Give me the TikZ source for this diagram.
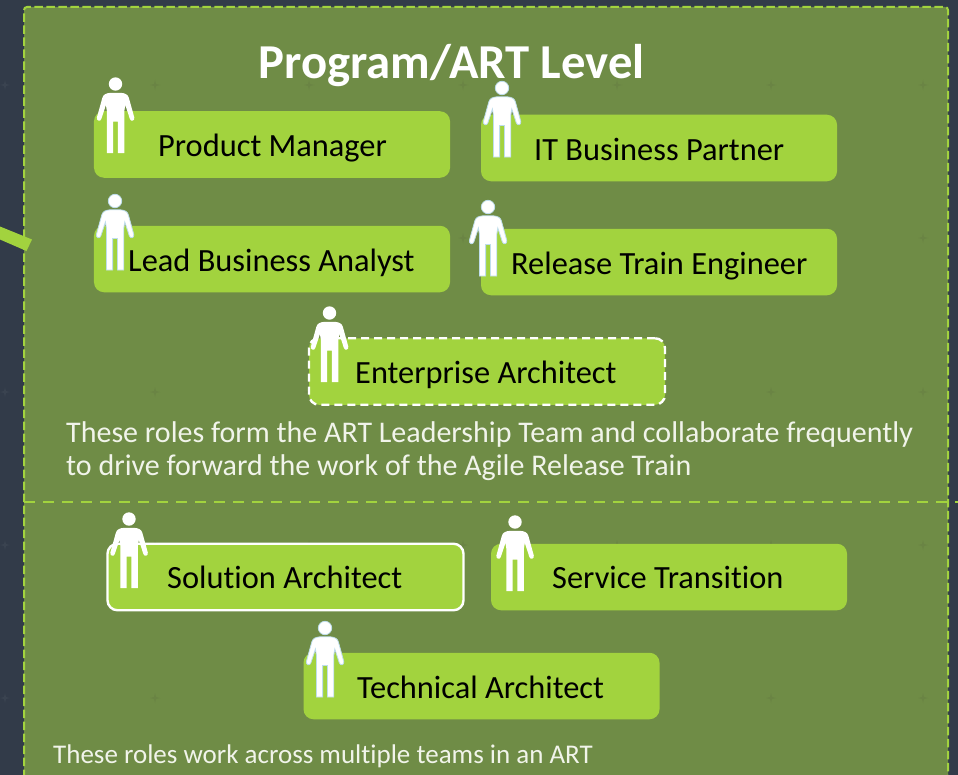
\documentclass[tikz,border=0pt]{standalone}
\usepackage{fontspec}
\setmainfont[Ligatures=NoCommon]{Carlito}
\definecolor{bg}{HTML}{323B49}
\definecolor{panel}{HTML}{6F8C46}
\definecolor{lime}{HTML}{A2D33E}
\definecolor{soft}{HTML}{F1F4EA}
\definecolor{halo}{HTML}{BFDDEB}
\definecolor{speck}{HTML}{6A8444}
\definecolor{speckdark}{HTML}{3A4350}
\tikzset{
  x=1bp,y=-1bp,
  role/.style={fill=lime,rounded corners=10bp,minimum width=356bp,minimum height=66.5bp,inner sep=0pt,draw=none},
  roletext/.style={font=\fontsize{32.4bp}{38bp}\selectfont,text=black,inner sep=0pt,anchor=base west},
  note/.style={font=\fontsize{30bp}{36bp}\selectfont,text=soft,inner sep=0pt,anchor=base west},
  figure/.style={fill=white,draw=none},
  halofig/.style={fill=white,draw=halo,line width=.8bp},
}
\newcommand{\personfig}[3][figure]{%
  \begin{scope}[shift={(#2,#3)}]
    \path[#1] (0,0) circle (6.7);
    \path[#1] (-5,8.8) .. controls (-9.5,9.2) and (-12.3,10.5) .. (-13.2,14)
      -- (-18.6,33.5) .. controls (-19.2,37) and (-15.2,38) .. (-14.2,35) -- (-9.6,21) -- (-8.6,27) -- (-8.6,69) -- (-2.4,69) -- (-2.4,37.5)
      -- (2.4,37.5) -- (2.4,69) -- (8.8,69) -- (8.8,27) -- (9.8,21) -- (14.4,35) .. controls (15.4,38) and (19.4,37) .. (18.8,33.5)
      -- (13.4,14) .. controls (12.5,10.5) and (9.7,9.2) .. (5.2,8.8) -- cycle;
  \end{scope}}
\newcommand{\speckmark}[3]{\fill[#1] (#2-5,#3) -- (#2-1,#3-1) -- (#2,#3-5) -- (#2+1,#3-1) -- (#2+5,#3) -- (#2+1,#3+1) -- (#2,#3+5) -- (#2-1,#3+1) -- cycle;}
\begin{document}
\begin{tikzpicture}
\useasboundingbox (0,0) rectangle (958,775);
\fill[bg] (0,0) rectangle (958,775);
\foreach \yy in {85,238,392,545,698} {\speckmark{speckdark}{5}{\yy}}
\fill[panel,rounded corners=3bp] (24,7) -- (948,7) -- (948,790) -- (24,790) -- cycle;
\foreach \xx in {155,309,463,617,771,923} \foreach \yy in {85,238,392,545,698} {\speckmark{speck}{\xx}{\yy}}
\draw[lime,line width=2bp,rounded corners=3bp,dash pattern=on 8.5bp off 3.5bp] (24,790) -- (24,7) -- (948,7) -- (948,790);
\draw[lime,line width=1.8bp,dash pattern=on 11bp off 8bp] (24,502) -- (958,502);
\fill[lime] (0,226.5) -- (32,239.5) -- (26.5,251) -- (0,239.5) -- cycle;
\node[role] (pm) at (272,144.5) {};
\node[role] (it) at (659,148) {};
\node[role] (lba) at (272,259) {};
\node[role] (rte) at (659,262) {};
\node[role,draw=white,line width=2.4bp,dash pattern=on 8bp off 5bp] (ea) at (487,371.5) {};
\node[role,draw=white,line width=2.4bp] (sa) at (285.5,577) {};
\node[role] (st) at (669,577) {};
\node[role] (ta) at (481.5,686) {};
\node[font=\bfseries\fontsize{48.7bp}{56bp}\selectfont,text=white,inner sep=0pt,anchor=base] (title) at (451.5,79) {Program/ART Level};
\personfig{115.5}{84}
\personfig[halofig]{502}{88}
\personfig[halofig]{115}{201}
\personfig[halofig]{488}{207}
\personfig{329.5}{313}
\personfig{129}{519}
\personfig{515}{522}
\personfig[halofig]{325}{628}
\node[roletext] (tpm) at (158,156) {Product Manager};
\node[roletext] (tit) at (534,160) {IT Business Partner};
\node[roletext] (tlba) at (128,271) {Lead Business Analyst};
\node[roletext] (trte) at (511,274) {Release Train Engineer};
\node[roletext] (tea) at (355,383) {Enterprise Architect};
\node[roletext] (tsa) at (167,588) {Solution Architect};
\node[roletext] (tst) at (552,588) {Service Transition};
\node[roletext] (tta) at (357,698) {Technical Architect};
\node[note] (n1) at (66,442) {These roles form the ART Leadership Team and collaborate frequently};
\node[note] (n2) at (66,475) {to drive forward the work of the Agile Release Train};
\node[note,font=\fontsize{27bp}{32bp}\selectfont] (n3) at (53,763) {These roles work across multiple teams in an ART};
\end{tikzpicture}
\end{document}
